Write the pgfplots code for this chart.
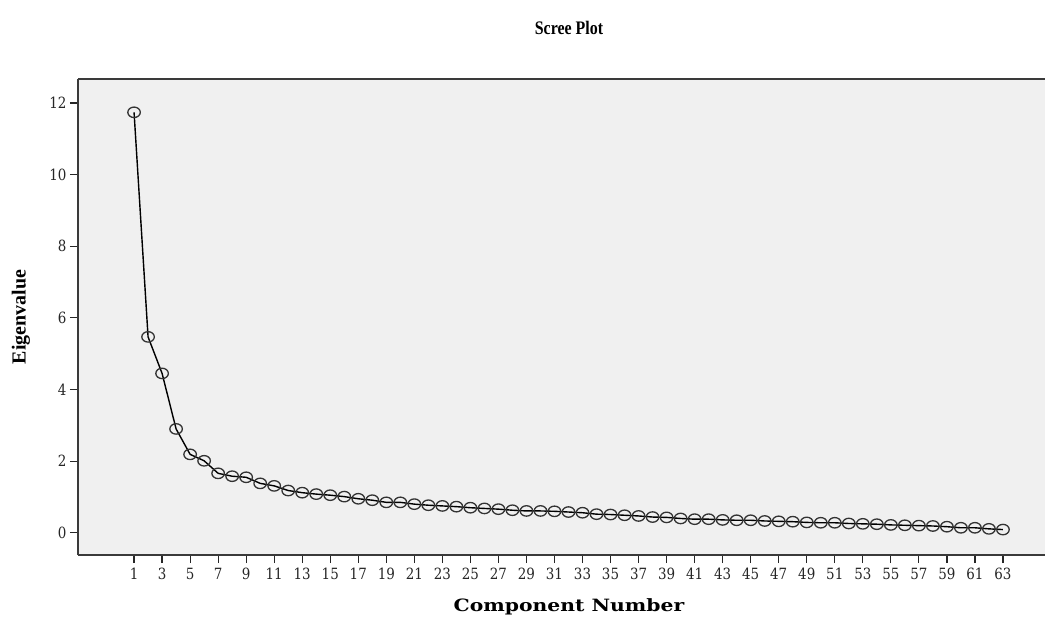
\documentclass[border=0pt]{standalone}
\usepackage{fontspec}
\usepackage{pgfplots}
\pgfplotsset{compat=1.18}
\setmainfont{Liberation Serif}
\newfontfamily\tickfont{DejaVu Serif}
\newfontfamily\xlabfont{DejaVu Serif}
\definecolor{bg}{HTML}{F0F0F0}
\definecolor{frame}{HTML}{3A3A3A}
\begin{document}
\begin{tikzpicture}
\useasboundingbox (-78bp,-62bp) rectangle (967bp,555bp);
\begin{axis}[
  at={(0,0)}, anchor=south west,
  scale only axis,
  width=967bp, height=476bp,
  xmin=-3, xmax=66, ymin=-0.62, ymax=12.67,
  axis x line=bottom, axis y line=left,
  axis line style={-, line width=1.6bp, color=frame},
  axis background/.style={fill=bg},
  xtick={1,3,...,63}, ytick={0,2,...,12},
  tick align=outside,
  major tick length=8bp,
  tick style={line width=1.2bp, color=black!85},
  /pgf/number format/assume math mode=true,
  ticklabel style={font=\tickfont\fontsize{13.5}{13.5}\selectfont, yscale=1.15, text=black!85},
  xticklabel style={yshift=-1bp},
  clip=false,
]
\draw[line width=1.6bp, color=frame] (rel axis cs:0,1) -- (rel axis cs:1,1);
\addplot[black, line width=1.4bp, mark=o, mark size=5.8bp,
  mark options={xscale=1.08, yscale=0.9, line width=1.3bp, draw=black!80}]
  table {
x y
1 11.74
2 5.47
3 4.45
4 2.90
5 2.19
6 2.01
7 1.66
8 1.58
9 1.55
10 1.38
11 1.31
12 1.18
13 1.12
14 1.08
15 1.05
16 1.01
17 0.95
18 0.91
19 0.85
20 0.85
21 0.80
22 0.77
23 0.75
24 0.73
25 0.70
26 0.68
27 0.66
28 0.63
29 0.61
30 0.61
31 0.60
32 0.58
33 0.56
34 0.52
35 0.51
36 0.49
37 0.47
38 0.44
39 0.43
40 0.40
41 0.38
42 0.38
43 0.36
44 0.35
45 0.35
46 0.33
47 0.32
48 0.31
49 0.29
50 0.28
51 0.28
52 0.26
53 0.25
54 0.24
55 0.22
56 0.21
57 0.20
58 0.19
59 0.17
60 0.14
61 0.14
62 0.11
63 0.09
};
\end{axis}
\node[font=\bfseries\fontsize{16}{16}\selectfont, yscale=1.2] at (491bp,527bp) {Scree Plot};
\node[font=\xlabfont\bfseries\fontsize{17}{17}\selectfont, xscale=1.2] at (491bp,-52bp) {Component Number};
\node[font=\bfseries\fontsize{20}{20}\selectfont, rotate=90] at (-57bp,238bp) {Eigenvalue};
\end{tikzpicture}
\end{document}
